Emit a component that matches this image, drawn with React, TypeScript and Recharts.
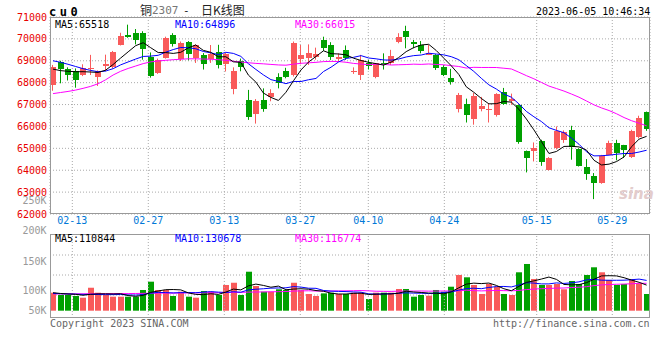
import React from 'react';
import { ComposedChart, Bar, Line, XAxis, YAxis, CartesianGrid, ReferenceLine } from 'recharts';

// ---------- data ----------
const opens = [
  67900, 68930, 68630, 68540, 68350, 68590, 68280, 68780, 68730, 69750,
  70180, 70260, 70270, 69160, 68430, 69145, 70170, 69090, 69840, 69100,
  69260, 69090, 69390, 68840, 67740, 68990, 67200, 66580, 67210, 67360,
  68280, 68550, 68350, 69110, 69110, 69150, 69950, 69720, 69090, 69500,
  68490, 68350, 68880, 68230, 68880, 68920, 69830, 70380, 69870, 69700,
  69270, 69270, 68730, 68230, 66800, 67040, 66350, 66820, 66790, 66530,
  67590, 67180, 66990, 64900, 64860, 65320, 63990, 65010, 65360, 65850,
  64970, 64170, 63750, 63410, 64710, 65250, 65130, 64600, 65520, 66640,
];
const highs = [
  68810, 69000, 68700, 68650, 68840, 69270, 68560, 69280, 69450, 70280,
  70650, 70450, 70350, 69380, 69100, 70100, 70260, 69880, 69900, 69750,
  69350, 69720, 69730, 69360, 68700, 69100, 67670, 67250, 67740, 67700,
  68430, 68680, 69880, 69720, 69750, 69600, 70100, 69850, 69340, 69700,
  68700, 69270, 69040, 68900, 69340, 69500, 70260, 70600, 69950, 69900,
  69720, 69300, 68800, 68630, 67530, 67270, 67530, 67350, 67070, 67520,
  67760, 67500, 67000, 64900, 65270, 65390, 64600, 66000, 65820, 66030,
  65000, 64510, 63870, 64700, 65350, 65390, 65160, 65850, 66490, 66680,
];
const lows = [
  67630, 67970, 68100, 67770, 68300, 68350, 67850, 68520, 68650, 69700,
  70050, 69750, 69050, 68230, 68400, 69100, 69650, 68990, 69020, 68900,
  68600, 68900, 68650, 68510, 67470, 68520, 66300, 66130, 66670, 67150,
  67740, 68200, 68280, 68840, 68810, 69050, 69450, 69040, 68960, 69040,
  68400, 68120, 68600, 68200, 68600, 68810, 69800, 69570, 69570, 69340,
  69260, 68580, 68300, 67910, 66640, 66180, 66080, 66690, 66180, 66450,
  66990, 66990, 65210, 63900, 64400, 64200, 63990, 64950, 65250, 64480,
  64170, 63560, 62680, 63380, 64700, 64450, 64560, 64560, 65450, 65800,
];
const closes = [
  68730, 68630, 68350, 68120, 68680, 68650, 68540, 68860, 69420, 70150,
  70070, 69950, 69540, 68280, 69040, 70060, 69760, 69800, 69290, 69700,
  68830, 69310, 68780, 69300, 68540, 68700, 66410, 67180, 66800, 67540,
  68010, 68280, 69800, 69270, 69340, 69300, 69570, 69150, 69190, 69150,
  68530, 69040, 68740, 68880, 68820, 69220, 70070, 70100, 69800, 69420,
  69370, 68660, 68360, 68050, 67450, 66540, 67410, 66950, 66810, 67490,
  67040, 67270, 65320, 64580, 65010, 64360, 64560, 65770, 65730, 65060,
  64200, 63840, 63440, 64660, 65250, 64790, 64900, 65770, 66400, 65880,
];
const volumes = [
  77200, 67400, 67400, 63200, 55800, 98600, 77200, 67400, 60200, 60200,
  60200, 60200, 88900, 124600, 88900, 88900, 63200, 81600, 60200, 55800,
  84600, 81600, 67400, 110400, 120000, 67400, 167400, 106000, 81600, 81600,
  91900, 88900, 120000, 88900, 71600, 63200, 74400, 77300, 71700, 71700,
  77300, 77300, 50200, 77300, 77300, 77300, 93200, 93200, 60200, 67400,
  64400, 88900, 81600, 103000, 153400, 143400, 110400, 71700, 114700, 103000,
  71700, 67400, 164900, 200600, 136200, 110400, 110400, 114700, 91900, 127600,
  114700, 153400, 186400, 164900, 131900, 110400, 114700, 134900, 117600, 71700,
];

// moving-average values before enough history is on screen
const ma5Lead = [68620, 68550, 68520, 68500];
const ma10Lead = [69000, 68930, 68840, 68740, 68640, 68560, 68500, 68530, 68640];
const ma30Lead = [
  67500, 67550, 67600, 67660, 67740, 67830, 67950, 68130, 68350, 68520,
  68650, 68760, 68870, 68950, 68990, 69020, 69050, 69070, 69090, 69090,
  69080, 69070, 69050, 69020, 68980, 68940, 68910, 68880, 68860,
];
const vma5Lead = [77300, 73900, 71700, 70400];
const vma10Lead = [74000, 73000, 72000, 71000, 70000, 70000, 69500, 69000, 69000];
const vma30Lead = [
  72000, 72100, 72300, 72200, 72500, 72800, 72700, 73100, 73400, 73600,
  73500, 73900, 74400, 75100, 75300, 75600, 75500, 76000, 76200, 76300,
  76800, 77100, 77300, 78000, 78600, 78800, 79700, 80200, 80600,
];

const tickPositions = [2.57, 12.68, 22.8, 32.91, 41.96, 52.08, 64.37, 74.43];
const tickLabels = ['02-13', '02-27', '03-13', '03-27', '04-10', '04-24', '05-15', '05-29'];
const priceTicks = [62000, 63000, 64000, 65000, 66000, 67000, 68000, 69000, 70000, 71000];
const volAxisLabels = ['250K', '200K', '150K', '100K', '50K'];
const priceMaText = ['MA5:65518', 'MA10:64896', 'MA30:66015'];
const volMaText = ['MA5:110844', 'MA10:130678', 'MA30:116774'];
const titleParts = ['铜', '2307', '-', '日K线图'];
const symbolText = 'cu0';
const timeText = '2023-06-05 10:46:34';
const copyrightText = 'Copyright 2023 SINA.COM';
const urlText = 'http://finance.sina.com.cn';

// ---------- derived table ----------
function movingAvg(src: number[], n: number, lead: number[]) {
  return src.map((_, i) => {
    if (i < n - 1) return lead[i];
    let s = 0;
    for (let k = i - n + 1; k <= i; k++) s += src[k];
    return s / n;
  });
}
const ma5 = movingAvg(closes, 5, ma5Lead);
const ma10 = movingAvg(closes, 10, ma10Lead);
const ma30 = movingAvg(closes, 30, ma30Lead);
const vma5 = movingAvg(volumes, 5, vma5Lead);
const vma10 = movingAvg(volumes, 10, vma10Lead);
const vma30 = movingAvg(volumes, 30, vma30Lead);

const rows = closes.map((c, i) => ({
  i,
  open: opens[i],
  high: highs[i],
  low: lows[i],
  close: c,
  range: [lows[i], highs[i]],
  vol: volumes[i],
  ma5: ma5[i],
  ma10: ma10[i],
  ma30: ma30[i],
  vma5: vma5[i],
  vma10: vma10[i],
  vma30: vma30[i],
}));

// ---------- styles ----------
const RED = '#f95a5a';
const GREEN = '#00a000';
const GRID = '#aaaaaa';
const FRAME = '#999999';
const MONO = "'DejaVu Sans Mono', 'Liberation Mono', monospace";
const X_DOMAIN: [number, number] = [-0.4, 79.45];

function CandleShape(props: any) {
  const { x, y, width, height, payload } = props;
  if (x == null || y == null || !payload) return null;
  const { open, close, high, low } = payload;
  const color = close >= open ? RED : GREEN;
  const yTop = height >= 0 ? y : y + height;
  const h = Math.abs(height);
  const span = high - low;
  const toY = (v: number) => (span === 0 ? yTop : yTop + ((high - v) / span) * h);
  const left = Math.round(x + width / 2 - 3);
  const wx = left + 2.5;
  const bTop = toY(Math.max(open, close));
  const bBot = toY(Math.min(open, close));
  return (
    <g>
      <line x1={wx} x2={wx} y1={yTop} y2={yTop + h} stroke={color} strokeWidth={1} />
      <rect x={left} y={Math.round(bTop)} width={6} height={Math.max(1, Math.round(bBot - bTop))} fill={color} />
    </g>
  );
}

function VolShape(props: any) {
  const { x, y, width, height, payload } = props;
  if (x == null || y == null || !payload) return null;
  const color = payload.close >= payload.open ? RED : GREEN;
  const left = Math.round(x + width / 2 - 3);
  const yTop = height >= 0 ? y : y + height;
  return <rect x={left} y={yTop} width={6} height={Math.abs(height)} fill={color} />;
}

const txt = (extra: React.CSSProperties): React.CSSProperties => ({
  position: 'absolute',
  fontFamily: MONO,
  fontSize: 10,
  lineHeight: '10px',
  whiteSpace: 'pre',
  ...extra,
});

const maColors = ['#000000', '#0000ff', '#ff00ff'];
const maX = [55, 175, 295];
const volLabelTops = [195.5, 226, 257, 286, 306];

export default function App() {
  return (
    <div style={{ position: 'absolute', left: 0, top: 0, width: 660, height: 360, background: '#fff', overflow: 'hidden' }}>
      {/* price chart */}
      <div style={{ position: 'absolute', left: 0, top: 0 }}>
        <ComposedChart width={660} height={360} data={rows} margin={{ top: 17, right: 10, bottom: 128, left: 0 }}>
          <CartesianGrid stroke={GRID} strokeDasharray="1 2" />
          <XAxis
            type="number"
            dataKey="i"
            domain={X_DOMAIN}
            allowDataOverflow
            ticks={tickPositions}
            interval={0}
            tickFormatter={(v: number) => tickLabels[tickPositions.indexOf(v)] ?? ''}
            axisLine={false}
            tickLine={false}
            tickSize={2}
            tickMargin={1}
            height={18}
            tick={{ fill: '#0078d7', fontSize: 10, fontFamily: MONO }}
          />
          <YAxis
            type="number"
            domain={[62000, 71000]}
            allowDataOverflow
            ticks={priceTicks}
            interval={0}
            width={50}
            axisLine={false}
            tickLine={false}
            tickSize={2}
            tickMargin={1}
            tick={{ fill: '#e80000', fontSize: 10, fontFamily: MONO }}
          />
          <Bar dataKey="range" barSize={6} shape={<CandleShape />} isAnimationActive={false} />
          <Line type="linear" dataKey="ma30" stroke="#ff00ff" strokeWidth={1} dot={false} isAnimationActive={false} />
          <Line type="linear" dataKey="ma10" stroke="#0000ff" strokeWidth={1} dot={false} isAnimationActive={false} />
          <Line type="linear" dataKey="ma5" stroke="#000000" strokeWidth={1} dot={false} isAnimationActive={false} />
        </ComposedChart>
      </div>

      {/* volume chart */}
      <div style={{ position: 'absolute', left: 0, top: 0 }}>
        <ComposedChart width={660} height={360} data={rows} margin={{ top: 234, right: 10, bottom: 42, left: 50 }}>
          <CartesianGrid stroke={GRID} strokeDasharray="1 2" vertical={false} horizontalPoints={[255, 275, 295]} />
          <XAxis type="number" dataKey="i" domain={X_DOMAIN} allowDataOverflow hide ticks={tickPositions} />
          <YAxis type="number" domain={[-31400, 329400]} allowDataOverflow hide />
          {tickPositions.map((t) => (
            <ReferenceLine key={t} x={t} stroke={GRID} strokeDasharray="1 2" />
          ))}
          <Bar dataKey="vol" barSize={6} shape={<VolShape />} isAnimationActive={false} />
          <Line type="linear" dataKey="vma30" stroke="#ff00ff" strokeWidth={1} dot={false} isAnimationActive={false} />
          <Line type="linear" dataKey="vma10" stroke="#0000ff" strokeWidth={1} dot={false} isAnimationActive={false} />
          <Line type="linear" dataKey="vma5" stroke="#000000" strokeWidth={1} dot={false} isAnimationActive={false} />
        </ComposedChart>
      </div>

      {/* frames */}
      <div style={{ position: 'absolute', left: 50, top: 17, width: 600, height: 197, border: `1px solid ${FRAME}`, boxSizing: 'border-box', pointerEvents: 'none' }} />
      <div style={{ position: 'absolute', left: 50, top: 234, width: 600, height: 84, border: `1px solid ${FRAME}`, boxSizing: 'border-box', pointerEvents: 'none' }} />

      {/* header */}
      <div style={txt({ left: 49, top: 6, fontSize: 12, lineHeight: '12px', fontWeight: 'bold', letterSpacing: 3.5, color: '#000' })}>{symbolText}</div>
      <div style={txt({ left: 140, top: 4, fontSize: 12, lineHeight: '12px', color: '#222', fontFamily: "'Noto Sans CJK SC', sans-serif" })}>{titleParts[0]}</div>
      <div style={txt({ left: 152, top: 5, fontSize: 11, lineHeight: '11px', color: '#777' })}>{titleParts[1]}</div>
      <div style={txt({ left: 183, top: 5, fontSize: 11, lineHeight: '11px', color: '#222' })}>{titleParts[2]}</div>
      <div style={txt({ left: 201, top: 4, fontSize: 12, lineHeight: '12px', color: '#222', fontFamily: "'Noto Sans CJK SC', sans-serif" })}>{titleParts[3]}</div>
      <div style={txt({ left: 536, top: 7, color: '#000' })}>{timeText}</div>

      {/* legends */}
      {priceMaText.map((t, k) => (
        <div key={t} style={txt({ left: maX[k], top: 19.5, color: maColors[k] })}>{t}</div>
      ))}
      {volMaText.map((t, k) => (
        <div key={t} style={txt({ left: maX[k], top: 234, color: maColors[k] })}>{t}</div>
      ))}

      {/* volume axis labels */}
      {volAxisLabels.map((t, k) => (
        <div key={t} style={txt({ left: 0, width: 46.5, textAlign: 'right', top: volLabelTops[k], color: '#999' })}>{t}</div>
      ))}

      {/* watermark */}
      <div style={txt({ left: 619, top: 187, fontSize: 15, lineHeight: '15px', fontStyle: 'italic', fontWeight: 'bold', color: '#e3cccc', fontFamily: "'DejaVu Sans', sans-serif" })}>sina</div>

      {/* footer */}
      <div style={txt({ left: 50, top: 319, color: '#666' })}>{copyrightText}</div>
      <div style={txt({ left: 493, top: 319, color: '#666' })}>{urlText}</div>
    </div>
  );
}
